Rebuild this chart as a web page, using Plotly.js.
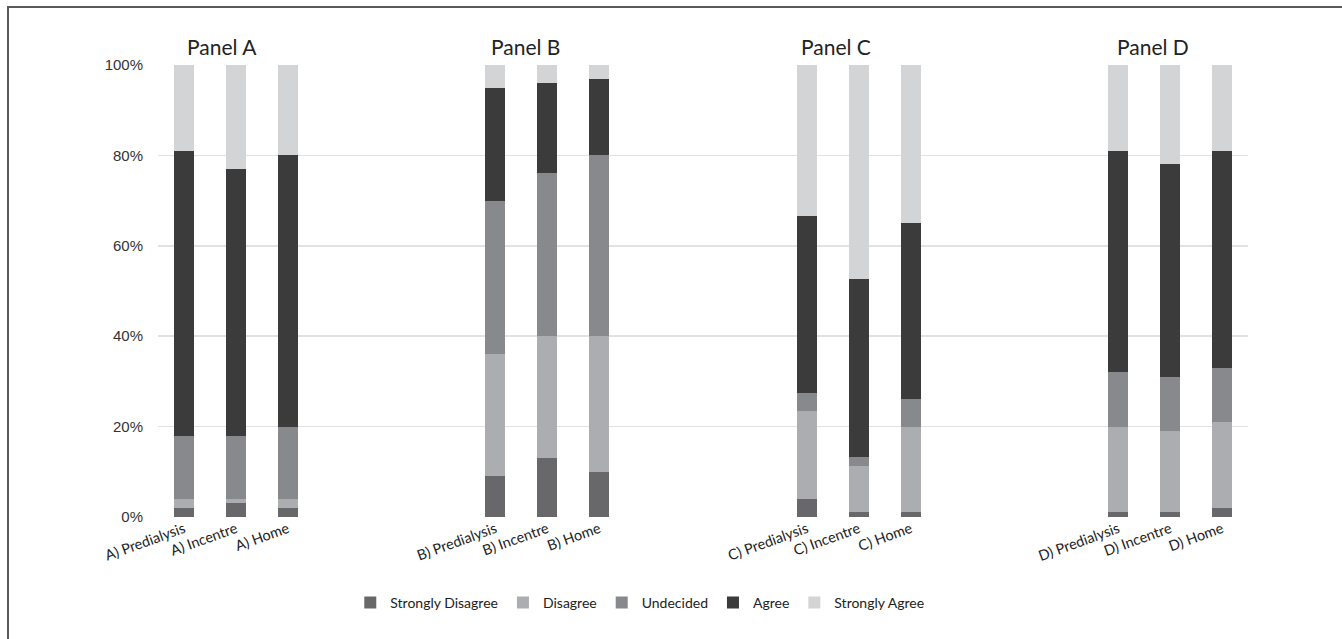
<!DOCTYPE html>
<html>
<head>
<meta charset="utf-8">
<script src="https://cdn.plot.ly/plotly-3.0.1.min.js"></script>
<style>
  html, body { margin: 0; padding: 0; background: #ffffff; overflow: hidden; }
  #wrap { position: relative; width: 1342px; height: 639px; overflow: hidden; }
  #chart { position: absolute; left: 0; top: 0; width: 1342px; height: 639px; }
  #frame { position: absolute; left: 7px; top: 6px; width: 1500px; height: 800px;
           border-left: 2px solid #5a5a5a; border-top: 2px solid #5a5a5a;
           border-right: none; border-bottom: none; pointer-events: none; }
</style>
</head>
<body>
<div id="wrap">
  <div id="chart"></div>
  <div id="frame"></div>
</div>
<script>
// ---- data (percent of respondents) ----
const panels = ['Panel A', 'Panel B', 'Panel C', 'Panel D'];
const groups = ['Predialysis', 'Incentre', 'Home'];
const categories = [
  'A) Predialysis', 'A) Incentre', 'A) Home',
  'B) Predialysis', 'B) Incentre', 'B) Home',
  'C) Predialysis', 'C) Incentre', 'C) Home',
  'D) Predialysis', 'D) Incentre', 'D) Home'
];
const seriesNames = ['Strongly Disagree', 'Disagree', 'Undecided', 'Agree', 'Strongly Agree'];

const stronglyDisagree = [2, 3, 2,   9, 13, 10,   4, 1, 1,     1, 1, 2];
const disagree         = [2, 1, 2,  27, 27, 30,  19.5, 10.3, 19,  19, 18, 19];
const undecided        = [14, 14, 16, 34, 36, 40,  4, 1.9, 6,   12, 12, 12];
const agree            = [63, 59, 60, 25, 20, 17,  39, 39.4, 39,  49, 47, 48];
const stronglyAgree    = [19, 23, 20,  5,  4,  3,  33.5, 47.4, 35, 19, 22, 19];

const yTicks = [0, 20, 40, 60, 80, 100];

// ---- styling ----
const colors = ['#68686b', '#acadb0', '#88898c', '#3b3b3b', '#d3d4d6'];
const seriesValues = [stronglyDisagree, disagree, undecided, agree, stronglyAgree];

// position of each category: 3 bars per panel, 3 empty slots between panels
const slotsPerPanel = groups.length * 2;
const xpos = categories.map((c, i) => Math.floor(i / groups.length) * slotsPerPanel + (i % groups.length));

const traces = seriesNames.map((name, s) => ({
  type: 'bar',
  name: name,
  x: xpos,
  y: seriesValues[s],
  marker: { color: colors[s], line: { width: 0 } },
  hoverinfo: 'x+y+name'
}));

const panelCenters = [0.0587, 0.3367, 0.622, 0.913];
const annotations = panels.map((p, i) => ({
  text: p, xref: 'paper', yref: 'paper', x: panelCenters[i], y: 1.04,
  xanchor: 'center', yanchor: 'middle', showarrow: false,
  font: { family: 'Lato, "Open Sans", sans-serif', size: 21, color: '#222222' }
}));

const layout = {
  width: 1342, height: 639,
  margin: { l: 158, r: 94, t: 65, b: 122, pad: 0 },
  paper_bgcolor: '#ffffff', plot_bgcolor: '#ffffff',
  barmode: 'stack', bargap: 0.615,
  showlegend: true,
  legend: {
    orientation: 'h', x: 0.442, xanchor: 'center', y: -0.19, yanchor: 'middle',
    font: { family: 'Lato, "Open Sans", sans-serif', size: 14, color: '#222222' },
    itemwidth: 30, traceorder: 'normal', bgcolor: 'rgba(0,0,0,0)'
  },
  xaxis: {
    range: [-0.5, xpos[xpos.length - 1] + 0.5],
    tickmode: 'array', tickvals: xpos, ticktext: categories,
    tickangle: -20, showgrid: false, zeroline: false, showline: false, ticks: '',
    tickfont: { family: 'Lato, "Open Sans", sans-serif', size: 14.5, color: '#222222' },
    fixedrange: true
  },
  yaxis: {
    range: [0, 100], tickmode: 'array', tickvals: yTicks,
    ticktext: yTicks.map(v => v + '%'),
    showgrid: true, gridcolor: '#e2e2e2', gridwidth: 1.5,
    zeroline: false, showline: false, ticks: '', ticklabelstandoff: 14,
    tickfont: { family: '"Liberation Sans", Arial, sans-serif', size: 15, color: '#333333' },
    fixedrange: true
  },
  annotations: annotations
};

Plotly.newPlot('chart', traces, layout, { displayModeBar: false, staticPlot: true });
</script>
</body>
</html>
